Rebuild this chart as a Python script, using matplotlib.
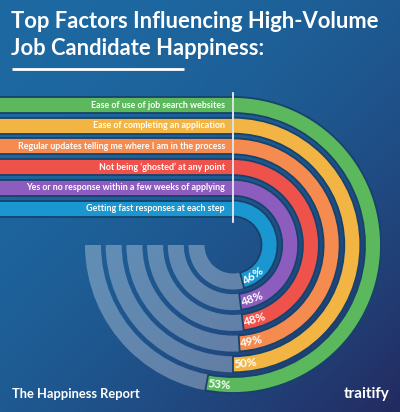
import numpy as np
import matplotlib
matplotlib.use("Agg")
import matplotlib.pyplot as plt
from matplotlib.patches import Wedge
from matplotlib.colors import to_rgb

# ── Data ──────────────────────────────────────────────────────────────────────

FACTORS = [
    "Ease of use of job search websites",
    "Ease of completing an application",
    "Regular updates telling me where I am in the process",
    "Not being \u2018ghosted\u2019 at any point",
    "Yes or no response within a few weeks of applying",
    "Getting fast responses at each step",
]
PERCENTS = [53, 50, 49, 48, 48, 46]
COLORS = ["#5bb85d", "#f2b544", "#f58b4e", "#ee524b", "#8c5cbf", "#1a97d0"]

TITLE_LINES = ["Top Factors Influencing High-Volume", "Job Candidate Happiness:"]
FOOTER = "The Happiness Report"
BRAND = "traitify"

# ── Layout (pixel units, y up) ────────────────────────────────────────────────

W, H = 400, 412
CX, CY = 233, H - 245
R_OUTER = 148
STEP = 20.7
BAND = 16
GAP_COLOR = "#17426a"
FONT = ["Lato", "DejaVu Sans"]

fig = plt.figure(figsize=(W / 100, H / 100), dpi=100)
ax = fig.add_axes([0, 0, 1, 1])
ax.set_xlim(0, W)
ax.set_ylim(0, H)
ax.axis("off")

# background gradient: blue top-left to navy bottom-right
xx, yy = np.meshgrid(np.linspace(0, 1, 200), np.linspace(0, 1, 206))
t = ((xx + yy) / 2) ** 2
c0 = np.array(to_rgb("#1d69a2"))
c1 = np.array(to_rgb("#232a60"))
bg = c0[None, None, :] * (1 - t[..., None]) + c1[None, None, :] * t[..., None]
ax.imshow(bg, extent=(0, W, 0, H), origin="upper", aspect="auto", zorder=0)

# ── Rings and bars ────────────────────────────────────────────────────────────

for k, (label, pct, color) in enumerate(zip(FACTORS, PERCENTS, COLORS)):
    r_out = R_OUTER - k * STEP
    r_mid = r_out - BAND / 2

    # grey track (bottom half)
    ax.add_patch(Wedge((CX, CY), r_out, 180, 360, width=BAND,
                       facecolor="white", alpha=0.3, edgecolor="none", zorder=1))

    # coloured arc, clockwise from 12 o'clock
    end_cw = pct * 3.6
    ax.add_patch(Wedge((CX, CY), r_out, 90 - end_cw, 90, width=BAND,
                       facecolor=color, edgecolor=GAP_COLOR, linewidth=1.3,
                       zorder=2))

    # straight bar to the left
    ax.barh(CY + r_mid, CX + 2, height=BAND, left=-2, color=color,
            edgecolor=GAP_COLOR, linewidth=1.3, zorder=2)

    ax.text(CX - 8, CY + r_mid, label, ha="right", va="center",
            color="white", fontsize=6.4, fontweight="bold",
            family=FONT, zorder=4)

    # percent label near the end of the arc
    lab_cw = end_cw - np.degrees(12.5 / r_mid)
    a = np.radians(90 - lab_cw)
    ax.text(CX + r_mid * np.cos(a), CY + r_mid * np.sin(a), f"{pct}%",
            ha="center", va="center", rotation=180 - lab_cw,
            rotation_mode="anchor", color="white", fontsize=8.4,
            fontweight="bold", family=FONT, zorder=4)

# white divider line
ax.plot([CX, CX], [H - 93, H - 222], color="white", linewidth=1.2, zorder=3)

# ── Text ──────────────────────────────────────────────────────────────────────

for i, line in enumerate(TITLE_LINES):
    ax.text(11, H - 28 - i * 27, line, ha="left", va="baseline",
            color="white", fontsize=15.8, fontweight="bold", family=FONT,
            zorder=4)
ax.plot([12, 184], [H - 69, H - 69], color="white", linewidth=2,
        solid_capstyle="butt", zorder=4)

ax.text(12, H - 398, FOOTER, ha="left", va="baseline", color="white",
        fontsize=9.3, fontweight="bold", family=FONT, zorder=4)
ax.text(390, H - 398, BRAND, ha="right", va="baseline", color="white",
        fontsize=11, fontweight="bold", family=FONT, zorder=4)

fig.savefig("out.png", dpi=100)
